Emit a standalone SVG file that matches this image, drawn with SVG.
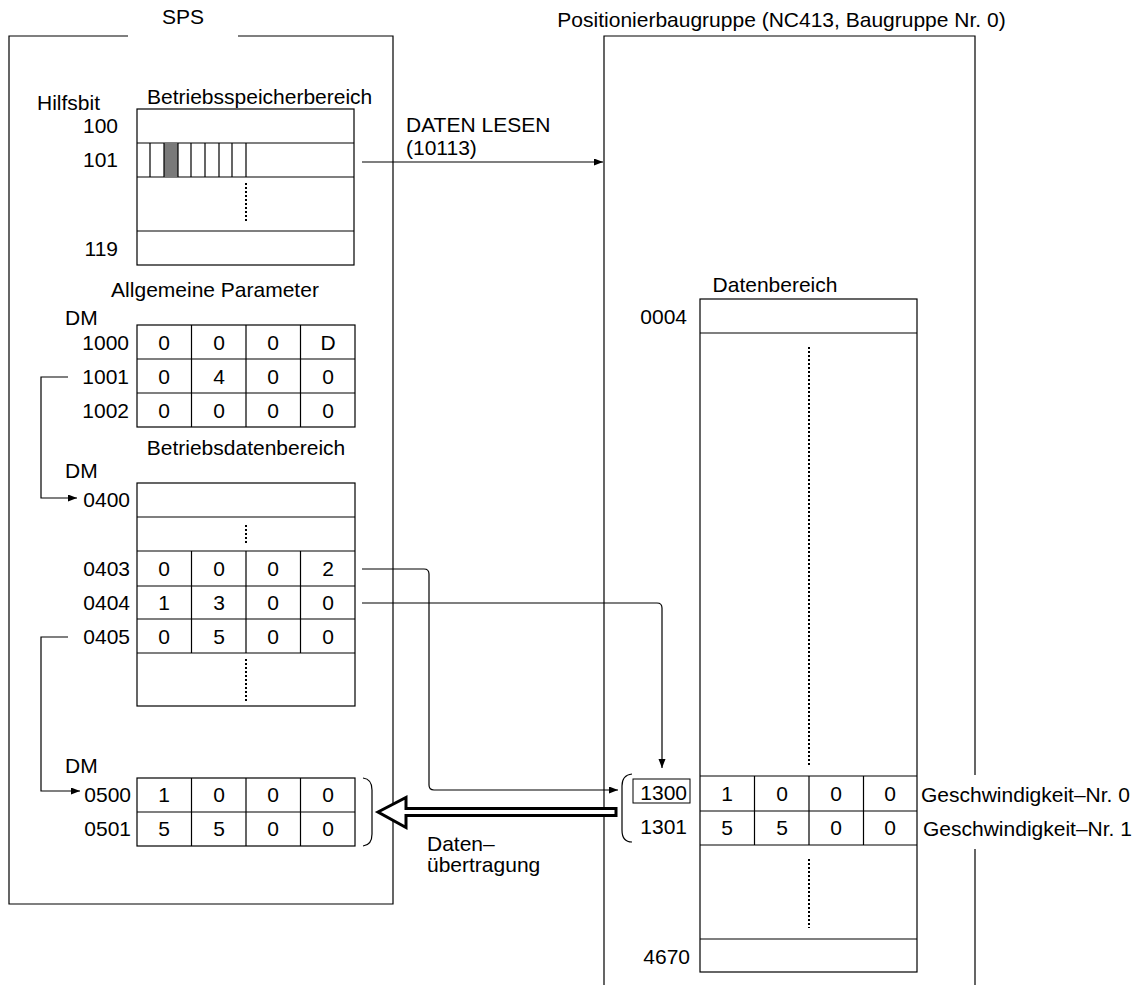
<svg xmlns="http://www.w3.org/2000/svg" width="1137" height="985" viewBox="0 0 1137 985">
<defs>
<marker id="ah" markerUnits="userSpaceOnUse" markerWidth="10" markerHeight="8" refX="9" refY="3.5" orient="auto">
<path d="M0 0 L9 3.5 L0 7 z" fill="#000"/>
</marker>
<style>
text{font-family:"Liberation Sans",Arial,sans-serif;font-size:21px;fill:#000}
.e{text-anchor:end}
.m{text-anchor:middle}
.ln{fill:none;stroke:#000;stroke-width:1.2}
.tb{fill:#fff;stroke:#000;stroke-width:1.2}
.dot{fill:none;stroke:#000;stroke-width:2;stroke-dasharray:2 2}
.cn{fill:none;stroke:#000;stroke-width:1.2}
</style>
</defs>
<rect width="1137" height="985" fill="#fff"/>

<g id="sps">
<path class="ln" d="M128 36 H9 V904 H393 V36 H238"/>
<text class="m" x="183" y="24">SPS</text>
</g>

<g id="betriebsspeicher">
<text x="37" y="110">Hilfsbit</text>
<text x="147" y="104">Betriebsspeicherbereich</text>
<rect class="tb" x="137" y="109" width="217" height="156"/>
<path class="ln" d="M137 143 H354 M137 177 H354 M137 231 H354"/>
<rect x="164" y="143" width="14" height="34" fill="#7a7a7a"/>
<path class="ln" d="M150 143 V177 M164 143 V177 M178 143 V177 M191 143 V177 M205 143 V177 M219 143 V177 M232 143 V177 M246 143 V177"/>
<path class="dot" d="M246 183 V223"/>
<text class="e" x="118" y="133">100</text>
<text class="e" x="118" y="167">101</text>
<text class="e" x="118" y="256">119</text>
</g>

<g id="allgemeine-parameter">
<text class="m" x="215" y="297">Allgemeine Parameter</text>
<text x="65" y="325">DM</text>
<rect class="tb" x="137" y="325" width="218" height="102"/>
<path class="ln" d="M137 359 H355 M137 393 H355 M191.5 325 V427 M246 325 V427 M300.5 325 V427"/>
<text class="e" x="129" y="350">1000</text>
<text class="e" x="129" y="384">1001</text>
<text class="e" x="129" y="418">1002</text>
<text class="m" x="164" y="350">0</text><text class="m" x="219" y="350">0</text><text class="m" x="273" y="350">0</text><text class="m" x="328" y="350">D</text>
<text class="m" x="164" y="384">0</text><text class="m" x="219" y="384">4</text><text class="m" x="273" y="384">0</text><text class="m" x="328" y="384">0</text>
<text class="m" x="164" y="418">0</text><text class="m" x="219" y="418">0</text><text class="m" x="273" y="418">0</text><text class="m" x="328" y="418">0</text>
</g>

<g id="betriebsdaten">
<text class="m" x="246" y="455">Betriebsdatenbereich</text>
<text x="65" y="478">DM</text>
<rect class="tb" x="137" y="483" width="218" height="223"/>
<path class="ln" d="M137 517 H355 M137 551 H355 M137 586 H355 M137 619 H355 M137 653 H355 M191.5 551 V653 M246 551 V653 M300.5 551 V653"/>
<path class="dot" d="M246 525 V545 M246 659 V702"/>
<text class="e" x="130" y="507">0400</text>
<text class="e" x="130" y="576">0403</text>
<text class="e" x="130" y="610">0404</text>
<text class="e" x="130" y="644">0405</text>
<text class="m" x="164" y="576">0</text><text class="m" x="219" y="576">0</text><text class="m" x="273" y="576">0</text><text class="m" x="328" y="576">2</text>
<text class="m" x="164" y="610">1</text><text class="m" x="219" y="610">3</text><text class="m" x="273" y="610">0</text><text class="m" x="328" y="610">0</text>
<text class="m" x="164" y="644">0</text><text class="m" x="219" y="644">5</text><text class="m" x="273" y="644">0</text><text class="m" x="328" y="644">0</text>
</g>

<g id="dm0500">
<text x="65" y="773">DM</text>
<rect class="tb" x="137" y="778" width="218" height="68"/>
<path class="ln" d="M137 812 H355 M191.5 778 V846 M246 778 V846 M300.5 778 V846"/>
<text class="e" x="131" y="802">0500</text>
<text class="e" x="131" y="836">0501</text>
<text class="m" x="164" y="802">1</text><text class="m" x="219" y="802">0</text><text class="m" x="273" y="802">0</text><text class="m" x="328" y="802">0</text>
<text class="m" x="164" y="836">5</text><text class="m" x="219" y="836">5</text><text class="m" x="273" y="836">0</text><text class="m" x="328" y="836">0</text>
<path class="ln" d="M363 778 Q372 779 372 790 V834 Q372 845 363 846"/>
</g>

<g id="positionierbaugruppe">
<path class="ln" d="M604 985 V36 H975 V775 M975 849 V985"/>
<text class="m" x="781.5" y="27">Positionierbaugruppe (NC413, Baugruppe Nr. 0)</text>
</g>

<g id="datenbereich">
<text class="m" x="775" y="292">Datenbereich</text>
<rect class="tb" x="700" y="299" width="217" height="673"/>
<path class="ln" d="M700 333 H917 M700 776 H917 M700 811 H917 M700 845 H917 M700 939 H917 M754.5 776 V845 M809 776 V845 M863.5 776 V845"/>
<path class="dot" d="M809 347 V765 M809 859 V928"/>
<text class="e" x="687" y="324">0004</text>
<rect x="633" y="779" width="57" height="24" fill="none" stroke="#000" stroke-width="1"/>
<text class="e" x="687" y="800">1300</text>
<text class="e" x="687" y="834">1301</text>
<text class="e" x="690" y="964">4670</text>
<text class="m" x="727" y="801">1</text><text class="m" x="782" y="801">0</text><text class="m" x="836" y="801">0</text><text class="m" x="890" y="801">0</text>
<text class="m" x="727" y="835">5</text><text class="m" x="782" y="835">5</text><text class="m" x="836" y="835">0</text><text class="m" x="890" y="835">0</text>
<path class="ln" d="M632 774 Q622 775 622 786 V830 Q622 842 632 842"/>
<text x="921" y="802">Geschwindigkeit–Nr. 0</text>
<text x="923" y="836">Geschwindigkeit–Nr. 1</text>
</g>

<g id="connectors">
<path class="cn" d="M362 162 H603" marker-end="url(#ah)"/>
<text x="406" y="132">DATEN LESEN</text>
<text x="406" y="155">(10113)</text>
<path class="cn" d="M68 377 H41 V498 H77" marker-end="url(#ah)"/>
<path class="cn" d="M68 637 H41 V791 H80" marker-end="url(#ah)"/>
<path class="cn" d="M362 569 H424 Q429 569 429 574 V785 Q429 790 434 790 H618" marker-end="url(#ah)"/>
<path class="cn" d="M362 603 H657 Q662 603 662 608 V768" marker-end="url(#ah)"/>
<polygon points="378,812 406,797.5 406,808.5 616,808.5 616,815.5 406,815.5 406,827.5" fill="#fff" stroke="#000" stroke-width="3" stroke-linejoin="miter"/>
<text x="427" y="851">Daten–</text>
<text x="427" y="872">übertragung</text>
</g>
</svg>
